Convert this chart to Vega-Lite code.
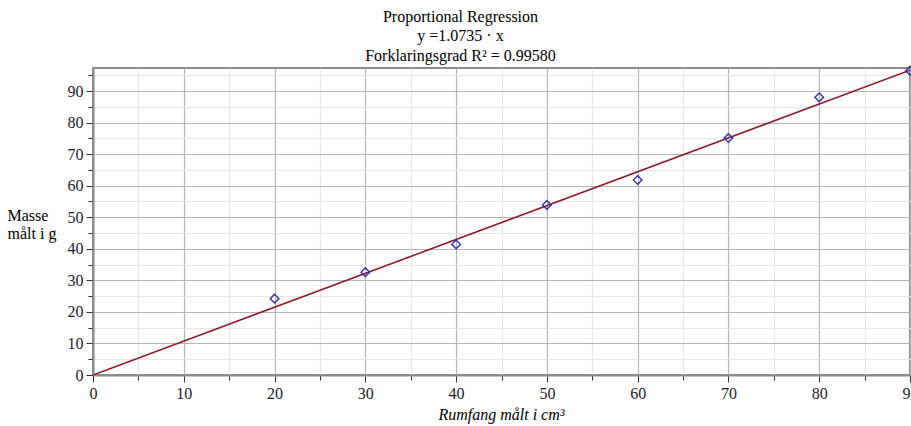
{
  "$schema": "https://vega.github.io/schema/vega-lite/v6.json",
  "width": 817,
  "height": 307,
  "autosize": {"type": "none"},
  "padding": {"left": 93, "top": 68, "right": 1, "bottom": 51},
  "background": "white",
  "config": {
    "font": "Liberation Serif",
    "view": {"stroke": "#8c8c8c", "strokeWidth": 2}
  },
  "title": {
    "text": ["Proportional Regression", "y =1.0735 · x", "Forklaringsgrad R² = 0.99580"],
    "font": "Liberation Serif",
    "fontSize": 16,
    "fontWeight": "normal",
    "color": "#000000",
    "anchor": "middle",
    "frame": "group",
    "dx": -41,
    "lineHeight": 19.5,
    "offset": 0
  },
  "datasets": {
    "points": [
      {"x": 20, "y": 24.2},
      {"x": 30, "y": 32.6},
      {"x": 40, "y": 41.4},
      {"x": 50, "y": 53.9},
      {"x": 60, "y": 61.8},
      {"x": 70, "y": 75.1},
      {"x": 80, "y": 88.0},
      {"x": 90, "y": 96.4}
    ],
    "fit": [
      {"x": 0, "y": 0},
      {"x": 90, "y": 96.615}
    ]
  },
  "encoding": {
    "x": {
      "field": "x", "type": "quantitative",
      "scale": {"domain": [0, 90], "nice": false, "zero": false},
      "axis": {
        "title": "Rumfang målt i cm³",
        "titleFont": "Liberation Serif",
        "titleFontSize": 16,
        "titleFontStyle": "italic",
        "titleFontWeight": "normal",
        "titleColor": "#000000",
        "titleX": 408,
        "titleY": 44,
        "titleBaseline": "alphabetic",
        "titleAnchor": "middle",
        "values": [0, 5, 10, 15, 20, 25, 30, 35, 40, 45, 50, 55, 60, 65, 70, 75, 80, 85, 90],
        "labelExpr": "datum.value % 10 === 0 ? datum.label : ''",
        "labelFont": "Liberation Serif",
        "labelFontSize": 16,
        "labelColor": "#1a1a2a",
        "labelPadding": 3,
        "labelFlush": false,
        "labelOverlap": false,
        "domainColor": "#8c8c8c",
        "domainWidth": 2,
        "tickColor": "#333333",
        "tickWidth": 1,
        "tickSize": {"condition": {"test": "datum.value % 10 === 0", "value": 7}, "value": 5},
        "grid": true,
        "gridColor": {"condition": {"test": "datum.value % 10 === 0", "value": "#b4b4b4"}, "value": "#e6e6e6"},
        "gridWidth": 1.2
      }
    },
    "y": {
      "field": "y", "type": "quantitative",
      "scale": {"domain": [0, 97.3], "nice": false, "zero": false},
      "axis": {
        "title": ["Masse", "målt i g"],
        "titleFont": "Liberation Serif",
        "titleFontSize": 16,
        "titleFontWeight": "normal",
        "titleColor": "#000000",
        "titleAngle": 0,
        "titleAlign": "left",
        "titleBaseline": "alphabetic",
        "titleX": -86,
        "titleY": 152,
        "titleLineHeight": 18,
        "values": [0, 5, 10, 15, 20, 25, 30, 35, 40, 45, 50, 55, 60, 65, 70, 75, 80, 85, 90, 95],
        "labelExpr": "datum.value % 10 === 0 ? datum.label : ''",
        "labelFont": "Liberation Serif",
        "labelFontSize": 16,
        "labelColor": "#1a1a2a",
        "labelPadding": 3,
        "labelFlush": false,
        "labelOverlap": false,
        "domainColor": "#8c8c8c",
        "domainWidth": 2,
        "tickColor": "#333333",
        "tickWidth": 1,
        "tickSize": {"condition": {"test": "datum.value % 10 === 0", "value": 7}, "value": 5},
        "grid": true,
        "gridColor": {"condition": {"test": "datum.value % 10 === 0", "value": "#b4b4b4"}, "value": "#e6e6e6"},
        "gridWidth": 1.2
      }
    }
  },
  "layer": [
    {
      "data": {"name": "fit"},
      "mark": {"type": "line", "color": "#8b1a2b", "strokeWidth": 1.6, "clip": true}
    },
    {
      "data": {"name": "points"},
      "mark": {"type": "point", "shape": "diamond", "size": 75, "filled": false, "stroke": "#3030a8", "strokeWidth": 1.4, "opacity": 1, "clip": false}
    }
  ]
}
